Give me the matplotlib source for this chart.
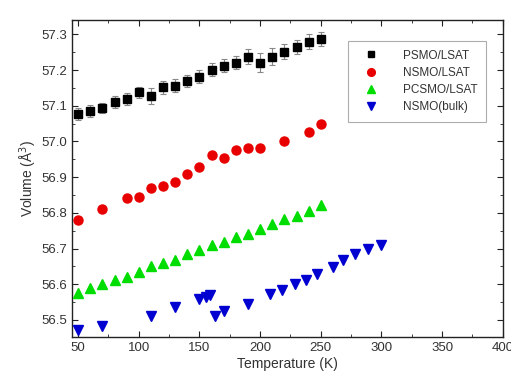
import matplotlib
matplotlib.use("Agg")
import matplotlib.pyplot as plt
from matplotlib.ticker import MultipleLocator, FormatStrFormatter

plt.rcParams['font.family'] = ['Liberation Sans', 'DejaVu Sans']

# PSMO/LSAT
t_psmo = [50, 60, 70, 80, 90, 100, 110, 120, 130, 140, 150, 160, 170, 180, 190,
          200, 210, 220, 230, 240, 250]
v_psmo = [57.077, 57.086, 57.094, 57.111, 57.119, 57.138, 57.128, 57.152, 57.156,
          57.170, 57.182, 57.201, 57.212, 57.221, 57.238, 57.221, 57.238, 57.252,
          57.264, 57.280, 57.288]
e_psmo = [0.016, 0.016, 0.015, 0.016, 0.016, 0.016, 0.022, 0.018, 0.018, 0.016,
          0.017, 0.018, 0.018, 0.018, 0.020, 0.026, 0.024, 0.022, 0.020, 0.020, 0.020]

# NSMO/LSAT
t_nsmo = [50, 70, 90, 100, 110, 120, 130, 140, 150, 160, 170, 180, 190, 200, 220, 240, 250]
v_nsmo = [56.781, 56.810, 56.842, 56.844, 56.870, 56.876, 56.886, 56.908, 56.929,
          56.961, 56.955, 56.975, 56.983, 56.982, 57.000, 57.027, 57.048]

# PCSMO/LSAT
t_pcsmo = [50, 60, 70, 80, 90, 100, 110, 120, 130, 140, 150, 160, 170, 180, 190,
           200, 210, 220, 230, 240, 250]
v_pcsmo = [56.576, 56.590, 56.601, 56.611, 56.621, 56.633, 56.650, 56.659, 56.668,
           56.684, 56.696, 56.710, 56.719, 56.731, 56.742, 56.755, 56.770, 56.782,
           56.792, 56.806, 56.823]

# NSMO(bulk)
t_bulk = [50, 70, 110, 130, 150, 155, 159, 163, 170, 190, 208, 218, 229, 238, 247,
          260, 268, 278, 289, 300]
v_bulk = [56.473, 56.482, 56.510, 56.536, 56.560, 56.564, 56.571, 56.510, 56.526,
          56.545, 56.573, 56.583, 56.601, 56.611, 56.628, 56.648, 56.667, 56.684,
          56.698, 56.710]

txt = '#333333'

fig = plt.figure(figsize=(5.11, 3.8), dpi=100)
ax = fig.add_axes([0.141, 0.113, 0.843, 0.834])

ax.errorbar(t_psmo, v_psmo, yerr=e_psmo, fmt='none', ecolor='#888888',
            elinewidth=0.8, capsize=2.5, capthick=0.8, zorder=2)
h1, = ax.plot(t_psmo, v_psmo, 's', color='black', ms=5.5, label='PSMO/LSAT', zorder=3)
h2, = ax.plot(t_nsmo, v_nsmo, 'o', color='#e80000', ms=6.5, label='NSMO/LSAT', zorder=3)
h3, = ax.plot(t_pcsmo, v_pcsmo, '^', color='#00dd00', ms=6.5, label='PCSMO/LSAT', zorder=3)
h4, = ax.plot(t_bulk, v_bulk, 'v', color='#0000d0', ms=6.5, label='NSMO(bulk)', zorder=3)

ax.set_xlim(45, 400)
ax.set_ylim(56.452, 57.34)
ax.xaxis.set_major_locator(MultipleLocator(50))
ax.xaxis.set_minor_locator(MultipleLocator(25))
ax.yaxis.set_major_locator(MultipleLocator(0.1))
ax.yaxis.set_minor_locator(MultipleLocator(0.05))
ax.yaxis.set_major_formatter(FormatStrFormatter('%.1f'))
ax.tick_params(which='both', direction='in', top=True, right=True,
               labelsize=9.5, colors='#222222', labelcolor=txt)
ax.tick_params(which='major', length=4)
ax.tick_params(which='minor', length=2.5)
for s in ax.spines.values():
    s.set_linewidth(1.0)
    s.set_color('#222222')

ax.set_xlabel('Temperature (K)', fontsize=10, color=txt, labelpad=2)
ax.set_ylabel('Volume (Å$^3$)', fontsize=10, color=txt, labelpad=2)

leg = ax.legend(handles=[h1, h2, h3, h4], loc='upper right',
                bbox_to_anchor=(0.975, 0.952), fontsize=8.5,
                frameon=True, fancybox=False, edgecolor='#999999',
                handletextpad=1.4, borderpad=0.7, labelspacing=0.45,
                handlelength=2.6, markerscale=0.85)
for t in leg.get_texts():
    t.set_color(txt)
leg.get_frame().set_linewidth(0.8)

fig.savefig('out.png', dpi=100)
